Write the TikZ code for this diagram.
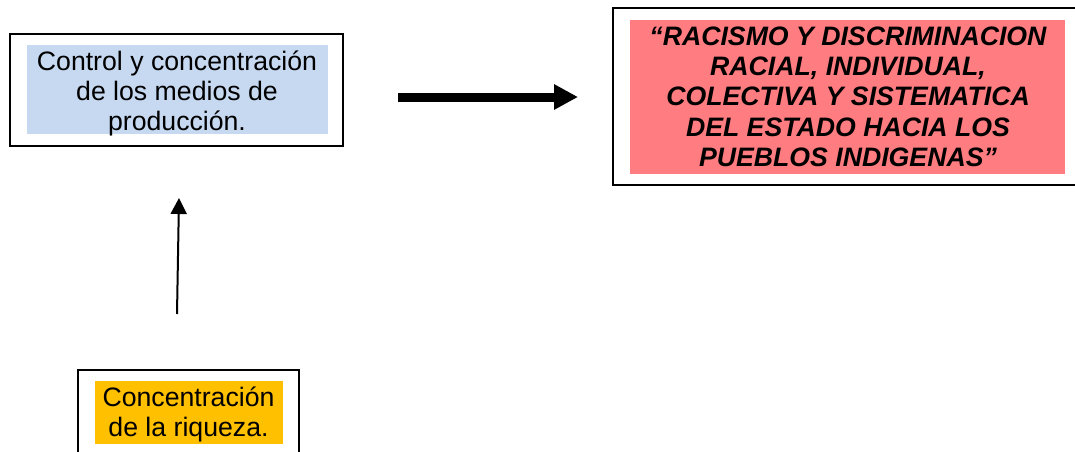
\documentclass[tikz,border=0pt]{standalone}
\usepackage{fontspec}
\setmainfont{Liberation Sans}
\usetikzlibrary{arrows.meta}
\definecolor{bluefill}{HTML}{C6D9F1}
\definecolor{redfill}{HTML}{FF7C80}
\definecolor{orangefill}{HTML}{FFC000}
\tikzset{
  outerbox/.style={draw=black, line width=1.3pt, inner sep=0pt, outer sep=0pt, fill=none},
  fillbox/.style={inner sep=0pt, outer sep=0pt},
  textbox/.style={inner sep=0pt, outer sep=0pt, align=center, font=\fontsize{20}{22.5}\selectfont},
  boldbox/.style={textbox, font=\fontsize{20}{22.8}\selectfont\bfseries\itshape},
  thinarrow/.style={line width=1.5pt, -{Triangle[width=12pt,length=12pt]}},
  thickarrow/.style={line width=6.75pt, -{Triangle[width=18pt,length=18pt]}}
}
\begin{document}
\begin{tikzpicture}[x=0.75pt,y=-0.75pt]
\useasboundingbox (0,0) rectangle (1075,451);
\fill[white] (0,0) rectangle (1075,451);
% outer boxes
\node[outerbox, minimum width=249.75pt, minimum height=84pt] (b1) at (176.5,90) {};
\node[outerbox, minimum width=357.75pt, minimum height=132.75pt] (b2) at (851.5,96.5) {};
\node[outerbox, minimum width=165.75pt, minimum height=82.5pt] (b3) at (188.5,425) {};
% highlight fills
\node[fillbox, fill=bluefill, minimum width=225.75pt, minimum height=66.75pt] (f1) at (177.5,89.5) {};
\node[fillbox, fill=redfill, minimum width=326.25pt, minimum height=115.5pt] (f2) at (847.5,97) {};
\node[fillbox, fill=orangefill, minimum width=141pt, minimum height=47.25pt] (f3) at (189,412.5) {};
% texts
\node[textbox] (t1) at (177,93.6)
  {Control y concentración\\de los medios de\\producción.};
\node[boldbox] (t2) at (848,96.7)
  {“RACISMO Y DISCRIMINACION\\RACIAL, INDIVIDUAL,\\COLECTIVA Y SISTEMATICA\\DEL ESTADO HACIA LOS\\PUEBLOS INDIGENAS”};
\node[textbox, font=\fontsize{20}{22}\selectfont] (t3) at (188.5,414.6)
  {Concentración\\de la riqueza.};
% arrows
\coordinate (a1s) at (398,97);
\coordinate (a1e) at (578,97);
\coordinate (a2s) at (177,314);
\coordinate (a2e) at (179,198);
\draw[thickarrow] (a1s) -- (a1e);
\draw[thinarrow] (a2s) -- (a2e);
\end{tikzpicture}
\end{document}
